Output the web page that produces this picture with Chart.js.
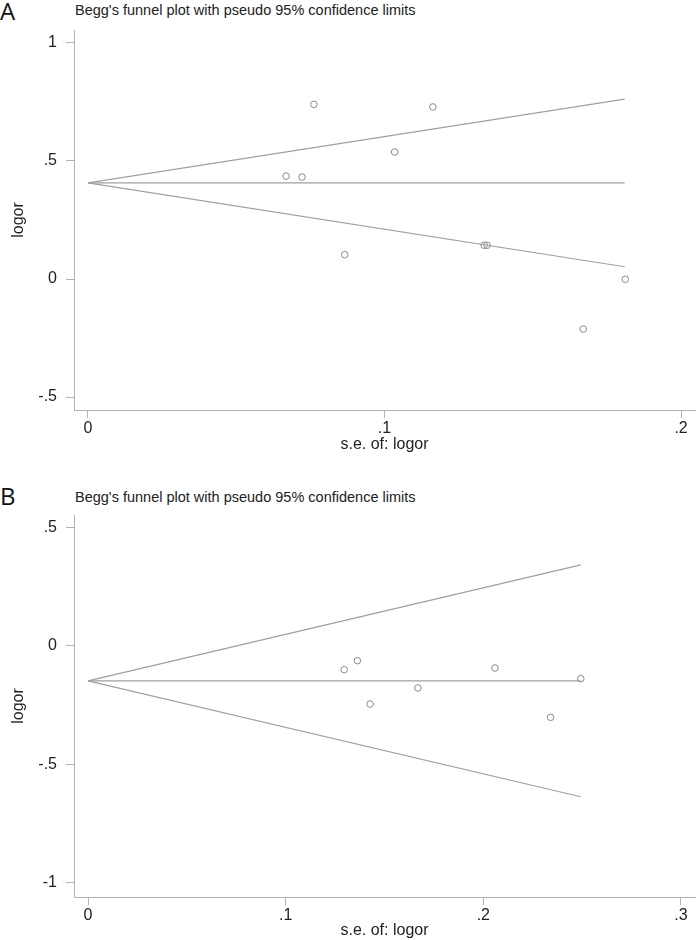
<!DOCTYPE html>
<html>
<head>
<meta charset="utf-8">
<script src="https://cdn.jsdelivr.net/npm/chart.js@4"></script>
<style>
  body { margin: 0; background: #fff; width: 700px; height: 940px; overflow: hidden; position: relative; }
  .panel { position: absolute; left: 0; width: 700px; height: 460px; }
  .letter { position: absolute; left: 0; font: 24px "Open Sans", sans-serif; color: #111; }
  .title { position: absolute; left: 75px; font: 14.5px "Liberation Sans", Arial, sans-serif; color: #222; }
</style>
</head>
<body>
<div class="letter" style="top:-6px">A</div>
<div class="title" style="top:2px">Begg's funnel plot with pseudo 95% confidence limits</div>
<div class="panel" style="top:0"><canvas id="plotA"></canvas></div>

<div class="letter" style="top:479px">B</div>
<div class="title" style="top:489px">Begg's funnel plot with pseudo 95% confidence limits</div>
<div class="panel" style="top:480px"><canvas id="plotB"></canvas></div>

<script>
// panel A: studies (standard error, log odds ratio)
var seA = [0.0762, 0.1163, 0.1034, 0.0668, 0.0722, 0.0866, 0.1336, 0.1346, 0.1812, 0.1670];
var logorA = [0.740, 0.729, 0.538, 0.436, 0.432, 0.103, 0.143, 0.143, -0.001, -0.212];
// funnel: pooled estimate and pseudo 95% limits at se = 0 and at the largest se
var funnelSeA = [0, 0.181];
var centreA = [0.407, 0.407];
var upperA = [0.407, 0.762];
var lowerA = [0.407, 0.052];
var xTicksA = [0, 0.1, 0.2];
var xLabelsA = ["0", ".1", ".2"];
var yTicksA = [-0.5, 0, 0.5, 1];
var yLabelsA = ["-.5", "0", ".5", "1"];

// panel B
var seB = [0.1296, 0.1363, 0.1427, 0.1669, 0.2059, 0.2340, 0.2493];
var logorB = [-0.101, -0.063, -0.246, -0.178, -0.094, -0.302, -0.139];
var funnelSeB = [0, 0.2493];
var centreB = [-0.148, -0.148];
var upperB = [-0.148, 0.341];
var lowerB = [-0.148, -0.637];
var xTicksB = [0, 0.1, 0.2, 0.3];
var xLabelsB = ["0", ".1", ".2", ".3"];
var yTicksB = [-1, -0.5, 0, 0.5];
var yLabelsB = ["-1", "-.5", "0", ".5"];

var axisGrey = '#b4b4b4';
var lineGrey = '#a0a0a0';
var textCol = '#222';
var font16 = { family: "'Liberation Sans', Arial, sans-serif", size: 16 };

function pairs(xs, ys) {
  return xs.map(function (x, i) { return { x: x, y: ys[i] }; });
}

function funnelChart(id, p) {
  var line = function (ys) {
    return { data: pairs(p.funnelSe, ys), showLine: true, borderColor: lineGrey,
             borderWidth: 1.2, pointRadius: 0, fill: false };
  };
  new Chart(document.getElementById(id), {
    type: 'scatter',
    data: {
      datasets: [
        line(p.upper), line(p.centre), line(p.lower),
        { data: pairs(p.se, p.logor), pointRadius: 3.3, pointBorderWidth: 1,
          borderColor: '#8a8a8a', backgroundColor: 'rgba(0,0,0,0)' }
      ]
    },
    options: {
      responsive: false,
      animation: false,
      devicePixelRatio: 1,
      layout: { padding: { top: p.padTop, right: 3, left: 0, bottom: 0 } },
      plugins: { legend: { display: false }, tooltip: { enabled: false } },
      scales: {
        x: {
          type: 'linear', min: p.xMin, max: p.xMax,
          afterBuildTicks: function (s) { s.ticks = p.xTicks.map(function (v) { return { value: v }; }); },
          afterFit: function (s) { s.height = p.xHeight; },
          border: { display: true, color: axisGrey, width: 1 },
          grid: { drawOnChartArea: false, drawTicks: true, tickLength: 8, color: axisGrey },
          ticks: { color: textCol, font: font16, padding: 1, maxRotation: 0,
                   callback: function (v, i) { return p.xLabels[i]; } },
          title: { display: true, text: 's.e. of: logor', color: textCol, font: font16,
                   padding: { top: 0, bottom: p.xTitlePad } }
        },
        y: {
          type: 'linear', min: p.yMin, max: p.yMax,
          afterBuildTicks: function (s) { s.ticks = p.yTicks.map(function (v) { return { value: v }; }); },
          afterFit: function (s) { s.width = 74; },
          border: { display: true, color: axisGrey, width: 1 },
          grid: { drawOnChartArea: false, drawTicks: true, tickLength: 8, color: axisGrey },
          ticks: { color: textCol, font: font16, padding: 9,
                   callback: function (v, i) { return p.yLabels[i]; } },
          title: { display: true, text: 'logor', color: textCol, font: font16,
                   padding: { top: 9, bottom: 0 } }
        }
      }
    }
  });
}

var cA = document.getElementById('plotA'); cA.width = 700; cA.height = 460;
var cB = document.getElementById('plotB'); cB.width = 700; cB.height = 460;

funnelChart('plotA', {
  se: seA, logor: logorA, funnelSe: funnelSeA, centre: centreA, upper: upperA, lower: lowerA,
  xTicks: xTicksA, xLabels: xLabelsA, yTicks: yTicksA, yLabels: yLabelsA,
  xMin: -0.0047, xMax: 0.2047, yMin: -0.555, yMax: 1.055,
  padTop: 30, xHeight: 50, xTitlePad: 6
});

funnelChart('plotB', {
  se: seB, logor: logorB, funnelSe: funnelSeB, centre: centreB, upper: upperB, lower: lowerB,
  xTicks: xTicksB, xLabels: xLabelsB, yTicks: yTicksB, yLabels: yLabelsB,
  xMin: -0.0071, xMax: 0.3071, yMin: -1.060, yMax: 0.5515,
  padTop: 35, xHeight: 43, xTitlePad: 0
});
</script>
</body>
</html>
